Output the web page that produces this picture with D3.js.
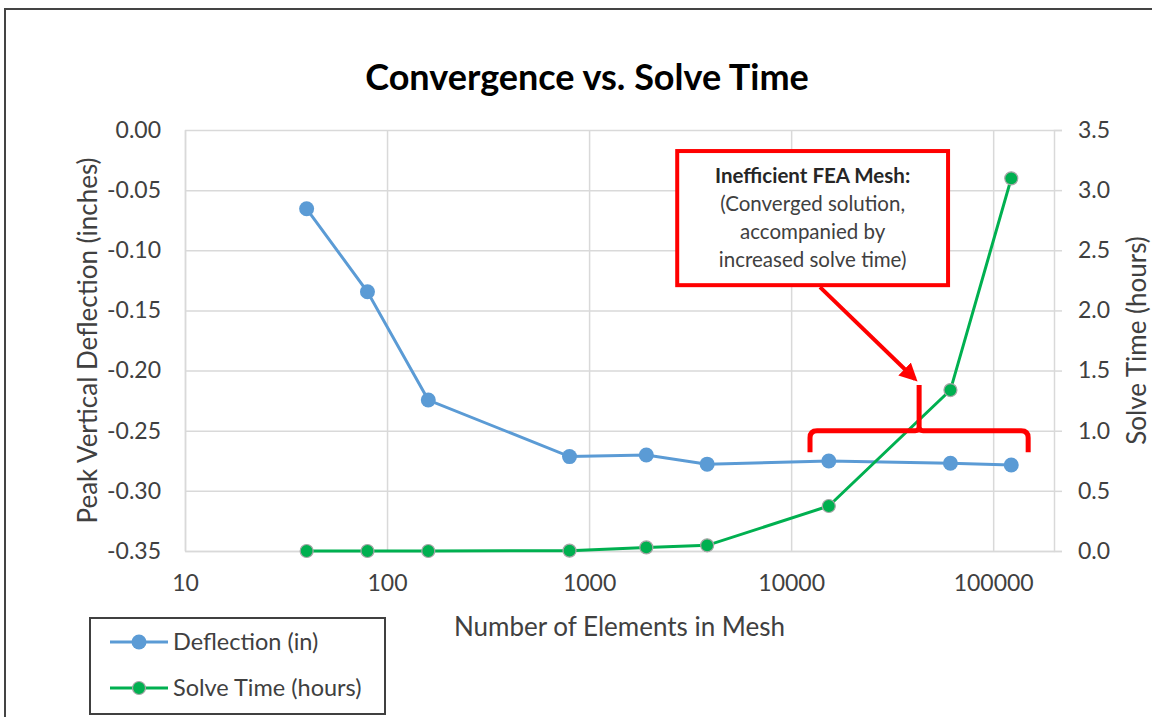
<!DOCTYPE html>
<html lang="en">
    <head>
        <meta charset="UTF-8">
        <title>Convergence vs. Solve Time</title>
        <style>
            body {
            margin: 0;
            padding: 0;
            background: white;
            }
            svg text {
            font-family: Lato, "Noto Sans", sans-serif;
            }
        </style>
    </head>
    <body>
        <div id="chart"></div>

        <script src="https://d3js.org/d3.v7.min.js"></script>

        <script>
            // values
            const elements = [40, 80, 160, 800, 1920, 3840, 15360, 61440, 122880];
            const deflection = [-0.0655, -0.1345, -0.2245, -0.2715, -0.2702, -0.2778, -0.2752, -0.2771, -0.2785];
            const solveTime = [0, 0, 0, 0.003, 0.03, 0.047, 0.374, 1.338, 3.098];

            const xTicks = [10, 100, 1000, 10000, 100000];
            const leftTicks = [0, -0.05, -0.10, -0.15, -0.20, -0.25, -0.30, -0.35];
            const rightTicks = [0, 0.5, 1.0, 1.5, 2.0, 2.5, 3.0, 3.5];
            const seriesNames = ['Deflection (in)', 'Solve Time (hours)'];
            const noteLines = ['Inefficient FEA Mesh:', '(Converged solution,', 'accompanied by', 'increased solve time)'];

            const width = 1152, height = 717;
            const plot = { left: 185, right: 1054, top: 130, bottom: 551 };

            const svg = d3.select('#chart')
                .append('svg')
                .attr('width', width)
                .attr('height', height);

            // outer frame
            svg.append('rect')
                .attr('x', 5).attr('y', 9)
                .attr('width', 1200).attr('height', 760)
                .attr('fill', 'white')
                .attr('stroke', '#444').attr('stroke-width', 2);

            const x = d3.scaleLog().domain([10, 200000]).range([plot.left, plot.right]);
            const yL = d3.scaleLinear().domain([-0.35, 0]).range([plot.bottom, plot.top]);
            const yR = d3.scaleLinear().domain([0, 3.5]).range([plot.bottom, plot.top]);

            // grid
            svg.append('g')
                .attr('transform', `translate(0, ${plot.bottom})`)
                .call(d3.axisBottom(x).tickValues(xTicks).tickSize(-(plot.bottom - plot.top)).tickFormat(''))
                .call(g => g.select('.domain').remove())
                .selectAll('line').attr('stroke', '#d9d9d9').attr('stroke-width', 1.5);

            svg.append('g')
                .attr('transform', `translate(${plot.left}, 0)`)
                .call(d3.axisLeft(yL).tickValues(leftTicks).tickSize(-(plot.right - plot.left)).tickFormat(''))
                .call(g => g.select('.domain').remove())
                .selectAll('line').attr('stroke', '#d9d9d9').attr('stroke-width', 1.5);

            // left axis labels (plain hyphen, like Excel)
            const fmt2 = d3.format('.2f');
            const leftAxis = svg.append('g')
                .attr('transform', `translate(${plot.left}, 0)`)
                .call(d3.axisLeft(yL).tickValues(leftTicks).tickSize(0).tickPadding(24)
                    .tickFormat(d => fmt2(d).replace('\u2212', '-')));
            leftAxis.select('.domain').attr('stroke', '#d9d9d9').attr('stroke-width', 1.5);

            // bottom axis
            const bottomAxis = svg.append('g')
                .attr('transform', `translate(0, ${plot.bottom})`)
                .call(d3.axisBottom(x).tickValues(xTicks).tickSize(0).tickPadding(24).tickFormat(d3.format('d')));
            bottomAxis.select('.domain').attr('stroke', '#d9d9d9').attr('stroke-width', 1.5);

            // right axis
            const rightAxis = svg.append('g')
                .attr('transform', `translate(${plot.right}, 0)`)
                .call(d3.axisRight(yR).tickValues(rightTicks).tickSize(8).tickPadding(16).tickFormat(d3.format('.1f')));
            rightAxis.select('.domain').attr('stroke', '#d9d9d9').attr('stroke-width', 1.5);
            rightAxis.selectAll('line').attr('stroke', '#d9d9d9').attr('stroke-width', 1.5);

            svg.selectAll('.tick text')
                .attr('fill', '#404040')
                .style('font-size', '23px');

            // titles
            svg.append('text')
                .attr('x', 587).attr('y', 90)
                .attr('text-anchor', 'middle')
                .style('font-size', '36px').style('font-weight', 'bold')
                .attr('fill', '#000')
                .text('Convergence vs. Solve Time');

            svg.append('text')
                .attr('transform', `translate(97, ${(plot.top + plot.bottom) / 2}) rotate(-90)`)
                .attr('text-anchor', 'middle')
                .style('font-size', '26px')
                .attr('fill', '#404040')
                .text('Peak Vertical Deflection (inches)');

            svg.append('text')
                .attr('transform', `translate(1146, ${(plot.top + plot.bottom) / 2}) rotate(-90)`)
                .attr('text-anchor', 'middle')
                .style('font-size', '26px')
                .attr('fill', '#404040')
                .text('Solve Time (hours)');

            svg.append('text')
                .attr('x', (plot.left + plot.right) / 2).attr('y', 636)
                .attr('text-anchor', 'middle')
                .style('font-size', '26px')
                .attr('fill', '#404040')
                .text('Number of Elements in Mesh');

            // series
            const blue = '#5b9bd5', green = '#00b050';

            const defData = elements.map((e, i) => ({ x: e, y: deflection[i] }));
            const timeData = elements.map((e, i) => ({ x: e, y: solveTime[i] }));

            svg.append('path')
                .datum(defData)
                .attr('fill', 'none')
                .attr('stroke', blue).attr('stroke-width', 3)
                .attr('d', d3.line().x(d => x(d.x)).y(d => yL(d.y)));

            svg.selectAll('.defDot')
                .data(defData)
                .enter().append('circle')
                .attr('class', 'defDot')
                .attr('cx', d => x(d.x)).attr('cy', d => yL(d.y))
                .attr('r', 7.5)
                .attr('fill', blue);

            svg.append('path')
                .datum(timeData)
                .attr('fill', 'none')
                .attr('stroke', green).attr('stroke-width', 3)
                .attr('d', d3.line().x(d => x(d.x)).y(d => yR(d.y)));

            svg.selectAll('.timeDot')
                .data(timeData)
                .enter().append('circle')
                .attr('class', 'timeDot')
                .attr('cx', d => x(d.x)).attr('cy', d => yR(d.y))
                .attr('r', 6.5)
                .attr('fill', green)
                .attr('stroke', '#a6a6a6').attr('stroke-width', 1.2);

            // annotation: box, arrow, bracket
            const red = '#ff0000';
            const box = { x0: x(2730), x1: x(59800), y0: yR(3.325), y1: yR(2.21) };

            svg.append('rect')
                .attr('x', box.x0).attr('y', box.y0)
                .attr('width', box.x1 - box.x0).attr('height', box.y1 - box.y0)
                .attr('fill', 'white')
                .attr('stroke', red).attr('stroke-width', 4);

            svg.append('g').selectAll('text')
                .data(noteLines)
                .enter().append('text')
                .attr('x', (box.x0 + box.x1) / 2)
                .attr('y', (d, i) => box.y0 + 32 + i * 28)
                .attr('text-anchor', 'middle')
                .style('font-size', '20.5px')
                .style('font-weight', (d, i) => i === 0 ? 'bold' : 'normal')
                .attr('fill', (d, i) => i === 0 ? '#262626' : '#404040')
                .text(d => d);

            svg.append('defs').append('marker')
                .attr('id', 'arrow')
                .attr('viewBox', '0 0 10 10')
                .attr('refX', 8).attr('refY', 5)
                .attr('markerWidth', 4.5).attr('markerHeight', 4.5)
                .attr('markerUnits', 'strokeWidth')
                .attr('orient', 'auto')
                .append('path')
                .attr('d', 'M0,0 L10,5 L0,10 Z')
                .attr('fill', red);

            svg.append('line')
                .attr('x1', x(13900)).attr('y1', box.y1 + 2)
                .attr('x2', x(41000)).attr('y2', yR(1.43))
                .attr('stroke', red).attr('stroke-width', 4)
                .attr('marker-end', 'url(#arrow)');

            const bx0 = x(12400), bx1 = x(149000), bxm = x(43000);
            const by = yR(1.0), byEnd = yR(0.82), byTop = yR(1.38);
            const r = 7;
            const bracket = d3.path();
            bracket.moveTo(bx0, byEnd);
            bracket.lineTo(bx0, by + r);
            bracket.quadraticCurveTo(bx0, by, bx0 + r, by);
            bracket.lineTo(bxm - 4, by);
            bracket.quadraticCurveTo(bxm, by, bxm, by - 4);
            bracket.lineTo(bxm, byTop);
            bracket.moveTo(bxm, by - 4);
            bracket.quadraticCurveTo(bxm, by, bxm + 4, by);
            bracket.lineTo(bx1 - r, by);
            bracket.quadraticCurveTo(bx1, by, bx1, by + r);
            bracket.lineTo(bx1, byEnd);

            svg.append('path')
                .attr('d', bracket.toString())
                .attr('fill', 'none')
                .attr('stroke', red).attr('stroke-width', 5);

            // legend
            const legend = svg.append('g');
            legend.append('rect')
                .attr('x', 90).attr('y', 618)
                .attr('width', 295).attr('height', 96)
                .attr('fill', 'white')
                .attr('stroke', '#404040').attr('stroke-width', 2);

            const legendItems = legend.selectAll('.item')
                .data(seriesNames)
                .enter().append('g')
                .attr('class', 'item')
                .attr('transform', (d, i) => `translate(110, ${642 + i * 46})`);

            legendItems.append('line')
                .attr('x1', 0).attr('x2', 58)
                .attr('stroke', (d, i) => i === 0 ? blue : green)
                .attr('stroke-width', 3);

            legendItems.append('circle')
                .attr('cx', 29)
                .attr('r', (d, i) => i === 0 ? 7.5 : 6.5)
                .attr('fill', (d, i) => i === 0 ? blue : green)
                .attr('stroke', (d, i) => i === 0 ? 'none' : '#a6a6a6')
                .attr('stroke-width', 1.2);

            legendItems.append('text')
                .attr('x', 63).attr('dy', '0.35em')
                .style('font-size', '23.5px')
                .attr('fill', '#404040')
                .text(d => d);
        </script>
    </body>
</html>
